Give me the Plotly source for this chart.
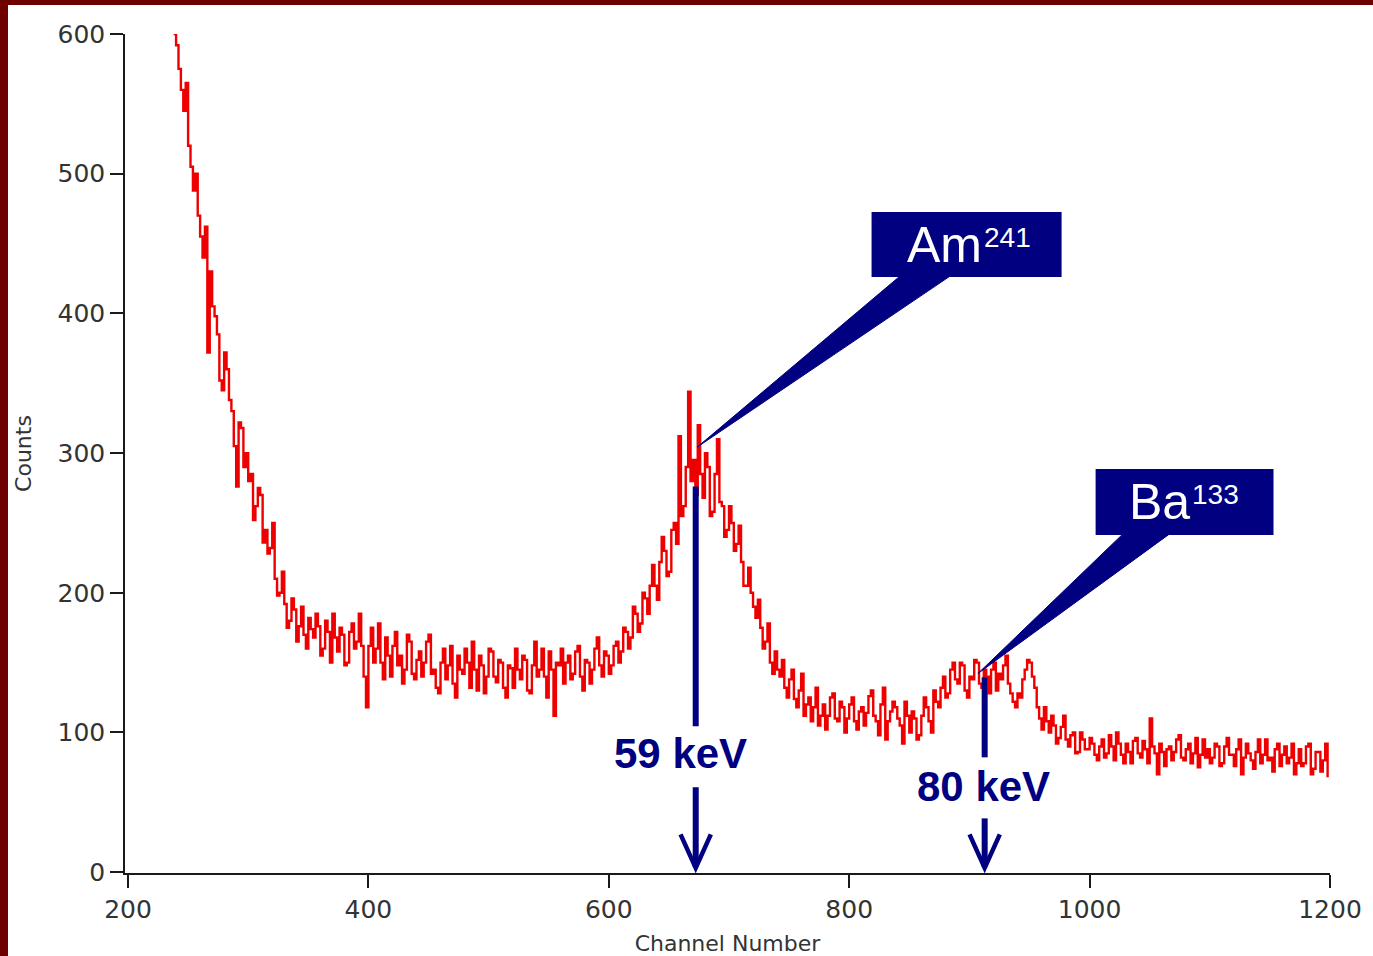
import plotly.graph_objects as go

# ---------------- data ----------------
start_channel = 238
channel_step = 2
counts = [
    # 238-276
    600, 592, 575, 560, 545, 565, 520, 505, 488, 500, 470, 455, 440, 462, 372, 430, 405, 398, 385, 352,
    # 278-316
    345, 372, 360, 338, 330, 305, 276, 322, 318, 290, 300, 280, 285, 252, 262, 275, 270, 236, 245, 228,
    # 318-356
    232, 250, 210, 198, 200, 215, 192, 175, 180, 196, 188, 165, 176, 190, 170, 160, 182, 174, 168, 185,
    # 358-396
    176, 155, 160, 180, 172, 150, 185, 168, 158, 175, 170, 148, 150, 172, 178, 160, 165, 185, 162, 140,
    # 398-436
    118, 162, 175, 150, 160, 178, 150, 138, 168, 155, 140, 162, 172, 148, 155, 135, 145, 170, 165, 142,
    # 438-476
    138, 152, 158, 140, 150, 165, 170, 142, 145, 132, 128, 150, 160, 138, 148, 162, 135, 125, 155, 145,
    # 478-516
    142, 160, 150, 132, 165, 145, 130, 155, 148, 128, 140, 160, 158, 140, 136, 152, 150, 132, 125, 148,
    # 518-556
    146, 132, 160, 145, 138, 155, 152, 130, 128, 148, 165, 140, 145, 160, 140, 125, 158, 145, 112, 150,
    # 558-596
    148, 160, 135, 150, 155, 138, 142, 158, 162, 140, 130, 152, 150, 135, 145, 160, 168, 148, 140, 158,
    # 598-636
    155, 142, 148, 162, 165, 150, 158, 175, 172, 160, 168, 190, 185, 172, 178, 200, 196, 185, 205, 220,
    # 638-676
    205, 195, 222, 240, 230, 212, 215, 245, 250, 235, 312, 255, 262, 290, 344, 280, 295, 270, 320, 285,
    # 678-716
    268, 300, 290, 255, 258, 285, 310, 265, 262, 240, 245, 262, 250, 230, 235, 248, 222, 205, 205, 218,
    # 718-756
    200, 190, 182, 195, 175, 160, 165, 178, 150, 142, 158, 145, 140, 152, 132, 125, 138, 145, 124, 118,
    # 758-796
    130, 142, 112, 120, 125, 108, 118, 132, 105, 112, 120, 102, 112, 125, 128, 110, 108, 122, 118, 100,
    # 798-836
    110, 120, 125, 108, 102, 115, 118, 105, 114, 126, 130, 112, 108, 98, 120, 132, 95, 108, 115, 122,
    # 838-876
    118, 110, 105, 92, 122, 112, 100, 115, 110, 95, 98, 112, 125, 118, 108, 100, 130, 122, 118, 132,
    # 878-916
    140, 125, 128, 145, 150, 138, 135, 150, 148, 130, 125, 140, 138, 152, 150, 135, 132, 145, 140, 128,
    # 918-956
    145, 150, 130, 142, 138, 148, 155, 135, 128, 122, 118, 128, 125, 138, 145, 152, 150, 140, 132, 118,
    # 958-996
    110, 102, 118, 108, 100, 112, 105, 92, 96, 104, 112, 95, 90, 98, 100, 85, 86, 100, 95, 88,
    # 998-1036
    88, 96, 92, 84, 80, 90, 95, 82, 85, 98, 90, 80, 100, 92, 84, 78, 92, 86, 78, 94,
    # 1038-1076
    96, 85, 82, 94, 88, 78, 110, 90, 85, 70, 92, 86, 76, 88, 90, 80, 86, 95, 98, 82,
    # 1078-1116
    80, 88, 92, 78, 85, 96, 75, 84, 95, 82, 88, 78, 82, 92, 90, 76, 78, 90, 96, 84,
    # 1118-1156
    84, 76, 88, 95, 70, 82, 92, 85, 80, 74, 86, 95, 78, 84, 95, 80, 82, 72, 88, 92,
    # 1158-1196
    76, 84, 90, 78, 82, 92, 70, 78, 88, 76, 78, 90, 92, 70, 74, 86, 86, 72, 80, 92,
    # 1198
    68,
]
channels = [start_channel + i * channel_step for i in range(len(counts))]

x_ticks = [200, 400, 600, 800, 1000, 1200]
y_ticks = [0, 100, 200, 300, 400, 500, 600]

energy_labels = ["59 keV", "80 keV"]
energy_channels = [672.3, 912.7]
isotope_names = ["Am", "Ba"]
isotope_masses = ["241", "133"]

# ---------------- styling / layout geometry ----------------
W, H = 1373, 956
ML, MR, MT, MB = 125, 43, 34, 83
NAVY = "#000080"
RED = "#ee0000"
X_RANGE = [197.5, 1200]
Y_RANGE = [-0.6, 600]


def px_to_paper_x(px):
    return (px - ML) / (W - ML - MR)


def px_to_paper_y(py):
    return (H - MB - py) / (H - MT - MB)


fig = go.Figure()
fig.add_trace(go.Scatter(
    x=channels, y=counts, mode="lines",
    line=dict(color=RED, width=2.4, shape="hv"),
    hoverinfo="x+y", showlegend=False,
))

shapes = []
# dark red decorative border strips (slide background)
shapes.append(dict(type="rect", xref="paper", yref="paper",
                   x0=px_to_paper_x(-2), x1=px_to_paper_x(8),
                   y0=px_to_paper_y(H + 2), y1=px_to_paper_y(-2),
                   fillcolor="#6e0000", line=dict(width=0), layer="above"))
shapes.append(dict(type="rect", xref="paper", yref="paper",
                   x0=px_to_paper_x(-2), x1=px_to_paper_x(W + 2),
                   y0=px_to_paper_y(5), y1=px_to_paper_y(-2),
                   fillcolor="#6e0000", line=dict(width=0), layer="above"))

# callout boxes + wedges (data coordinates)
boxes = [
    dict(x0=818.6, x1=976.7, y0=426.0, y1=472.6, bx0=842.0, bx1=883.6, tx=673.6, ty=304.3,
         split=911.0, ny=449.0, sy=454.4),
    dict(x0=1005.0, x1=1153.0, y0=241.3, y1=288.6, bx0=1027.3, bx1=1066.0, tx=907.1, ty=142.2,
         split=1084.3, ny=265.2, sy=270.3),
]
for b in boxes:
    shapes.append(dict(type="rect", xref="x", yref="y",
                       x0=b["x0"], x1=b["x1"], y0=b["y0"], y1=b["y1"],
                       fillcolor=NAVY, line=dict(width=0), layer="above"))
    shapes.append(dict(type="path", xref="x", yref="y",
                       path=f"M {b['bx0']},{b['y0']+0.5} L {b['bx1']},{b['y0']+0.5} L {b['tx']},{b['ty']} Z",
                       fillcolor=NAVY, line=dict(color=NAVY, width=1), layer="above"))

# energy markers: upper bar, lower arrow with open chevron head
bars = [
    dict(top=276.0, bot=104.4, a0=60.8, text_y=85.0, text_x=660.0),
    dict(top=139.5, bot=82.2, a0=38.5, text_y=61.5, text_x=912.0),
]
for ch, b in zip(energy_channels, bars):
    shapes.append(dict(type="line", xref="x", yref="y",
                       x0=ch, x1=ch, y0=b["top"], y1=b["bot"],
                       line=dict(color=NAVY, width=6), layer="above"))
    shapes.append(dict(type="line", xref="x", yref="y",
                       x0=ch, x1=ch, y0=b["a0"], y1=4.0,
                       line=dict(color=NAVY, width=6), layer="above"))
    shapes.append(dict(type="path", xref="x", yref="y",
                       path=f"M {ch-12.6},27 L {ch},3 L {ch+12.6},27",
                       line=dict(color=NAVY, width=4.5), layer="above"))

annotations = []
iso_font = "Liberation Sans, Arial, sans-serif"
for name, mass, b in zip(isotope_names, isotope_masses, boxes):
    annotations.append(dict(x=b["split"], y=b["ny"], xref="x", yref="y", text=name,
                            showarrow=False, xanchor="right", yanchor="middle", borderpad=0,
                            font=dict(family=iso_font, size=50, color="white")))
    annotations.append(dict(x=b["split"], y=b["sy"], xref="x", yref="y", text=mass,
                            showarrow=False, xanchor="left", yanchor="middle", borderpad=0,
                            font=dict(family=iso_font, size=28, color="white")))
for lbl, b in zip(energy_labels, bars):
    annotations.append(dict(x=b["text_x"], y=b["text_y"], xref="x", yref="y",
                            text=f"<b>{lbl}</b>", showarrow=False,
                            font=dict(family=iso_font, size=42, color=NAVY),
                            xanchor="center", yanchor="middle"))

tick_font = dict(family="DejaVu Sans ExtraLight, DejaVu Sans, sans-serif", size=25, color="#333333")
title_font = dict(family="DejaVu Sans ExtraLight, DejaVu Sans, sans-serif", size=22, color="#333333")
common_axis = dict(showline=True, linecolor="#1a1a1a", linewidth=1.5,
                   ticks="outside", ticklen=13, tickwidth=1.5, tickcolor="#1a1a1a",
                   showgrid=False, zeroline=False, tickfont=tick_font, automargin=False)

fig.update_layout(
    width=W, height=H, autosize=False,
    margin=dict(l=ML, r=MR, t=MT, b=MB, pad=0),
    paper_bgcolor="white", plot_bgcolor="white",
    xaxis=dict(range=X_RANGE, tickvals=x_ticks, ticktext=[str(v) for v in x_ticks],
               title=dict(text="Channel Number", font=title_font, standoff=14),
               **common_axis),
    yaxis=dict(range=Y_RANGE, tickvals=y_ticks, ticktext=[str(v) for v in y_ticks],
               title=dict(text="Counts", font=title_font, standoff=20),
               **common_axis),
    shapes=shapes,
    annotations=annotations,
    showlegend=False,
)

fig.write_html("out.html",
               config={"displayModeBar": False},
               post_script="document.body.style.margin='0px';document.body.style.overflow='hidden';")
